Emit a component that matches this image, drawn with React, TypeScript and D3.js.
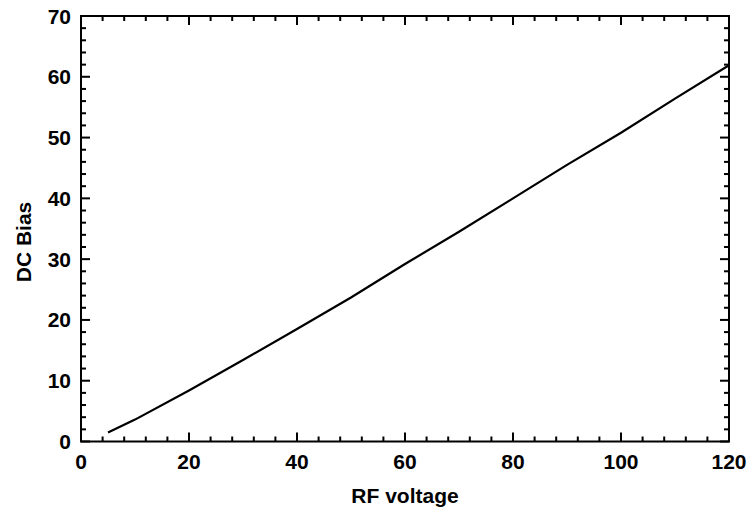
import React from "react";
import * as d3 from "d3";

const rfVoltage = [5, 10, 20, 30, 40, 50, 60, 70, 80, 90, 100, 110, 120];
const dcBias = [1.5, 3.6, 8.4, 13.4, 18.5, 23.7, 29.2, 34.5, 40.0, 45.5, 50.8, 56.4, 61.9];
const xMajor = [0, 20, 40, 60, 80, 100, 120];
const yMajor = [0, 10, 20, 30, 40, 50, 60, 70];

const W = 751, H = 518;
const left = 81, right = 729, top = 16, bottom = 441.5;
const font = "'Liberation Sans', Arial, sans-serif";

export default function App() {
  const x = d3.scaleLinear().domain([0, 120]).range([left, right]);
  const y = d3.scaleLinear().domain([0, 70]).range([bottom, top]);
  const xMinor = d3.range(0, 31).map((i) => i * 4);
  const yMinor = d3.range(0, 36).map((i) => i * 2);
  const curve = d3.line<number>().x((_, i) => x(rfVoltage[i])).y((d) => y(d));
  return (
    <svg width={W} height={H} style={{ position: "absolute", left: 0, top: 0, background: "#fff" }}>
      {xMinor.map((v) => (
        <rect key={"xb" + v} x={x(v) - 1} y={bottom - (v % 20 === 0 ? 9 : 5)} width={2} height={v % 20 === 0 ? 9 : 5} fill="#000" />
      ))}
      {xMinor.map((v) => (
        <rect key={"xt" + v} x={x(v) - 1} y={top} width={2} height={v % 20 === 0 ? 9 : 5} fill="#000" />
      ))}
      {yMinor.map((v) => (
        <rect key={"yl" + v} x={left} y={y(v) - 1} width={v % 10 === 0 ? 9 : 5} height={2} fill="#000" />
      ))}
      {yMinor.map((v) => (
        <rect key={"yr" + v} x={right - (v % 10 === 0 ? 9 : 5)} y={y(v) - 1} width={v % 10 === 0 ? 9 : 5} height={2} fill="#000" />
      ))}
      <rect x={left} y={top} width={right - left} height={bottom - top} fill="none" stroke="#000" strokeWidth={2} />
      <path d={curve(dcBias) || ""} fill="none" stroke="#000" strokeWidth={2.2} />
      <g fontFamily={font} fontWeight="bold" fontSize={21} fill="#000">
        {xMajor.map((v) => (
          <text key={"xl" + v} x={x(v)} y={469} textAnchor="middle">{v}</text>
        ))}
        {yMajor.map((v) => (
          <text key={"ylab" + v} x={71} y={y(v)} dy="0.36em" textAnchor="end">{v}</text>
        ))}
        <text x={405} y={503} textAnchor="middle">RF voltage</text>
        <text transform={`translate(31,242) rotate(-90)`} textAnchor="middle">DC Bias</text>
      </g>
    </svg>
  );
}
